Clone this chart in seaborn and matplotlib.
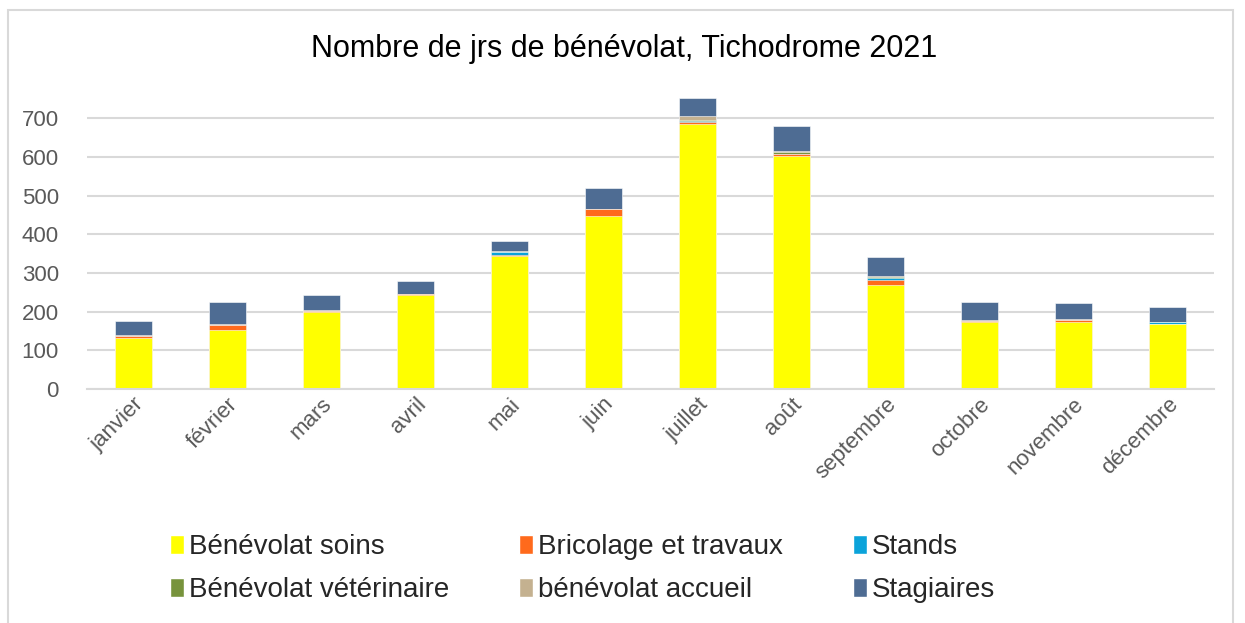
import numpy as np
import pandas as pd
import matplotlib
matplotlib.use("Agg")
import matplotlib.pyplot as plt
from matplotlib.patches import Patch, Rectangle
import seaborn as sns

#%% data
mois = ["janvier", "février", "mars", "avril", "mai", "juin", "juillet",
        "août", "septembre", "octobre", "novembre", "décembre"]

soins = [133, 152, 198, 243, 345, 447, 684, 603, 270, 172, 174, 167]
bricolage = [3, 14, 4, 3, 1, 17, 6, 4, 13, 4, 5, 0]
stands = [0, 0, 0, 0, 7, 0, 3, 0, 5, 0, 0, 5]
veterinaire = [0, 0, 0, 0, 1, 0, 2, 5, 1, 1, 0, 0]
accueil = [3, 1, 1, 0, 2, 2, 10, 4, 2, 2, 2, 1]
stagiaires = [38, 58, 40, 34, 26, 53, 46, 65, 50, 47, 40, 38]

series = ["Bénévolat soins", "Bricolage et travaux", "Stands",
          "Bénévolat vétérinaire", "bénévolat accueil", "Stagiaires"]
colors = ["#FFFF00", "#FF6A1C", "#0BA3DA", "#77933C", "#C4B190", "#4E6C93"]

df = pd.DataFrame({"mois": mois,
                   series[0]: soins, series[1]: bricolage, series[2]: stands,
                   series[3]: veterinaire, series[4]: accueil, series[5]: stagiaires})

# cumulative totals for stacking
cum = df[series].cumsum(axis=1)
cum["mois"] = df["mois"]

#%% plot
sns.set_style("white")
plt.rcParams["font.family"] = ["Liberation Sans", "DejaVu Sans"]

fig = plt.figure(figsize=(12.45, 6.23), dpi=100)
ax = fig.add_axes([0.0695, 0.3756, 0.906, 0.472])

# draw tallest first, then overlay the lower stacks
for s, c in zip(series[::-1], colors[::-1]):
    sns.barplot(data=cum, x="mois", y=s, color=c, width=0.4, ax=ax,
                saturation=1, edgecolor="white", linewidth=0.4)

ax.set_ylim(0, 760)
ax.set_yticks(range(0, 800, 100))
ax.set_xlim(-0.5, 11.5)
ax.set_xlabel("")
ax.set_ylabel("")
ax.yaxis.grid(True, color="#d9d9d9", linewidth=1.5)
ax.set_axisbelow(True)
for sp in ["top", "right", "left"]:
    ax.spines[sp].set_visible(False)
ax.spines["bottom"].set_color("#d9d9d9")
ax.spines["bottom"].set_linewidth(1.5)
ax.tick_params(axis="both", length=0, colors="#595959", labelsize=16)
ax.tick_params(axis="y", pad=20)
plt.setp(ax.get_xticklabels(), rotation=45, ha="right", rotation_mode="anchor")

fig.text(0.501, 0.922, "Nombre de jrs de bénévolat, Tichodrome 2021",
         ha="center", va="center", fontsize=22, color="black")

# legend laid out row by row like the original
order = [0, 3, 1, 4, 2, 5]
handles = [Patch(facecolor=colors[i], label=series[i]) for i in order]
fig.legend(handles=handles, ncol=3, loc="center", bbox_to_anchor=(0.468, 0.087),
           frameon=False, fontsize=20, handlelength=0.5, handleheight=0.7,
           handletextpad=0.2, columnspacing=2.5, labelspacing=0.6)

# chart frame
fig.patches.append(Rectangle((8 / 1245, -0.05), 1225 / 1245, 1.05 - 10 / 623,
                             transform=fig.transFigure, fill=False,
                             edgecolor="#d9d9d9", linewidth=1.5))

fig.savefig("out.png", dpi=100)
